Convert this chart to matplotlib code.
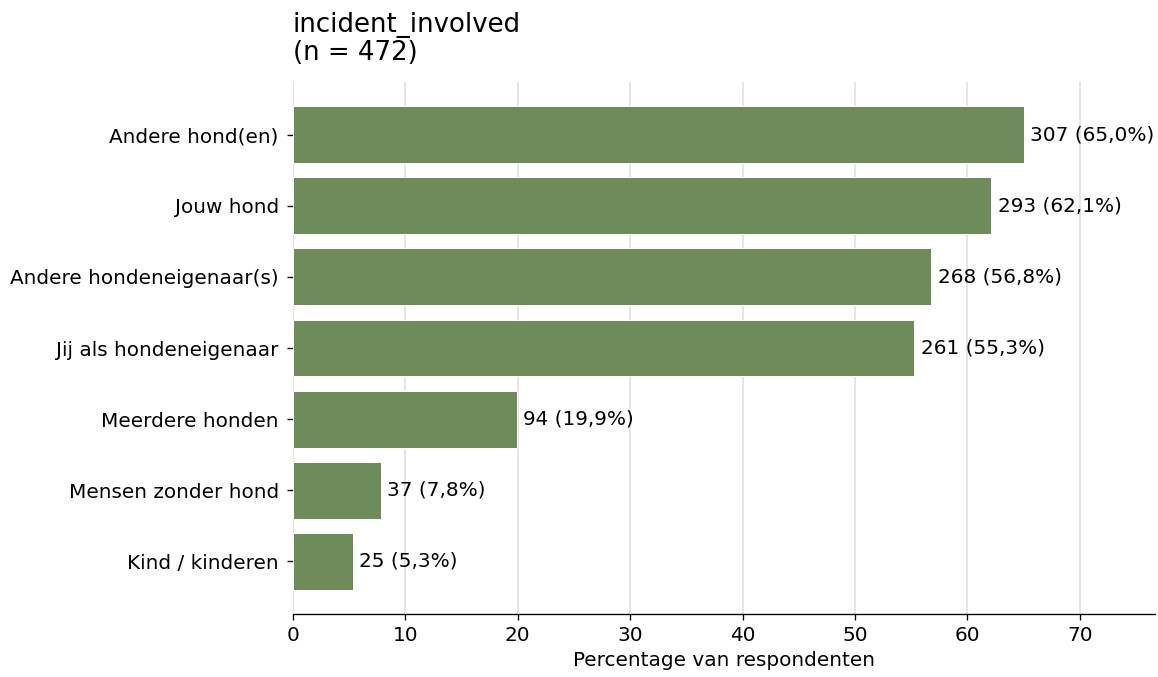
import matplotlib.pyplot as plt
import numpy as np

# data
labels = ['Andere hond(en)', 'Jouw hond', 'Andere hondeneigenaar(s)',
          'Jij als hondeneigenaar', 'Meerdere honden', 'Mensen zonder hond',
          'Kind / kinderen']
counts = [307, 293, 268, 261, 94, 37, 25]
n_total = 472
pct = [65.0, 62.1, 56.8, 55.3, 19.9, 7.8, 5.3]

bar_color = '#6e8b5a'

fig = plt.figure(figsize=(1158 / 120, 677 / 120), dpi=120)
ax = fig.add_axes([293 / 1158, 1 - 614 / 677, (1155 - 293) / 1158, (614 - 82) / 677])

y = np.arange(len(labels))
bars = ax.barh(y, pct, height=0.8, color=bar_color, edgecolor='white', linewidth=0.6, zorder=2)
ax.invert_yaxis()
ax.set_yticks(y)
ax.set_yticklabels(labels, fontsize=12)
ax.tick_params(axis='y', pad=5)
ax.tick_params(axis='x', labelsize=12)
ax.set_xlim(0, max(pct) * 1.18)

# labels at bar end
for rect, c, p in zip(bars, counts, pct):
    ax.annotate(f'{c} ({p:.1f}%)'.replace('.', ','),
                xy=(rect.get_width(), rect.get_y() + rect.get_height() / 2),
                xytext=(4, 0), textcoords='offset points',
                ha='left', va='center', fontsize=12)

ax.set_xlabel('Percentage van respondenten', fontsize=12)
ax.set_title(f'incident_involved\n(n = {n_total})', loc='left', fontsize=15.6, pad=13,
             linespacing=1.1)

ax.grid(axis='x', color='#dddddd', linewidth=0.9, zorder=0)
ax.set_axisbelow(True)
for s in ['top', 'right', 'left']:
    ax.spines[s].set_visible(False)

fig.savefig('out.png', dpi=120)
